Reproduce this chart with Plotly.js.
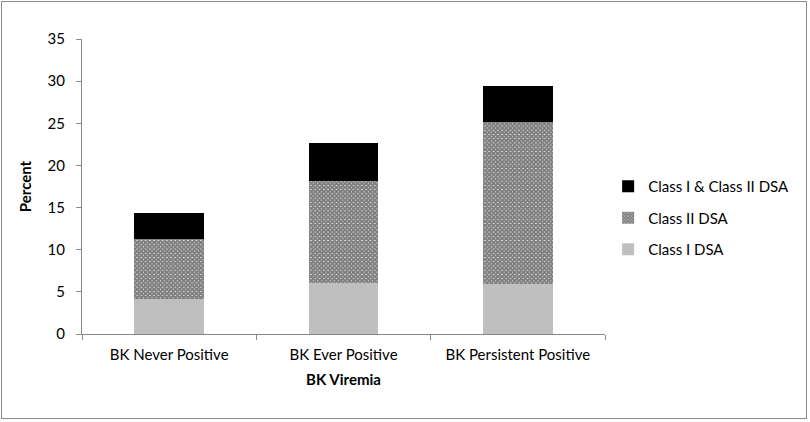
<!DOCTYPE html>
<html>
<head>
<meta charset="utf-8">
<script src="https://cdn.plot.ly/plotly-3.0.1.min.js"></script>
<style>
  body { margin: 0; background: #fff; }
  #frame {
    position: absolute; left: 1px; top: 1px;
    width: 804px; height: 416px;
    border: 1px solid #8c8c8c;
  }
  #chart { position: absolute; left: -2px; top: -2px; width: 810px; height: 422px; }
</style>
</head>
<body>
<div id="frame"><div id="chart"></div></div>
<script>
// categories and stacked series (percent)
const categories = ["BK Never Positive", "BK Ever Positive", "BK Persistent Positive"];
const classI = [4.1, 6.0, 5.9];
const classII = [7.2, 12.2, 19.2];
const classBoth = [3.05, 4.5, 4.35];
const yTicks = [0, 5, 10, 15, 20, 25, 30, 35];

const font = "Lato, 'Open Sans', sans-serif";

const data = [
  {
    x: categories,
    y: classI,
    name: "Class I DSA",
    legendgroup: "a",
    legendrank: 3,
    type: "bar",
    marker: { color: "#bfbfbf" },
  },
  {
    x: categories,
    y: classII,
    name: "Class II DSA",
    legendgroup: "b",
    legendrank: 2,
    type: "bar",
    marker: {
      color: "#ffffff",
      pattern: { shape: "x", size: 3, solidity: 0.9, fgcolor: "#000", bgcolor: "#fff", fillmode: "overlay" },
    },
  },
  {
    x: categories,
    y: classBoth,
    name: "Class I & Class II DSA",
    legendgroup: "c",
    legendrank: 1,
    type: "bar",
    marker: { color: "#000000" },
  },
];

const layout = {
  width: 810,
  height: 422,
  barmode: "stack",
  bargap: 0.6,
  margin: { l: 82, r: 205, t: 39, b: 88 },
  paper_bgcolor: "rgba(0,0,0,0)",
  plot_bgcolor: "rgba(0,0,0,0)",
  font: { family: font, size: 15, color: "#000" },
  showlegend: true,
  legend: {
    traceorder: "grouped",
    x: 1.006, xanchor: "left",
    y: 0.393, yanchor: "middle",
    font: { family: font, size: 15 },
    tracegroupgap: 9,
    itemwidth: 30,
  },
  xaxis: {
    title: { text: "<b>BK Viremia</b>", font: { family: font, size: 15 }, standoff: 12 },
    showline: true,
    linecolor: "#888",
    ticks: "outside",
    tickson: "boundaries",
    ticklen: 5,
    tickcolor: "#888",
    ticklabelstandoff: 7,
    showgrid: false,
    tickfont: { family: font, size: 15 },
  },
  yaxis: {
    title: { text: "<b>Percent</b>", font: { family: font, size: 15 }, standoff: 12 },
    range: [0, 35],
    tickvals: yTicks,
    showline: true,
    linecolor: "#888",
    ticks: "outside",
    ticklen: 5,
    tickcolor: "#888",
    ticklabelstandoff: 8,
    showgrid: false,
    zeroline: false,
    tickfont: { family: font, size: 15 },
  },
};

Plotly.newPlot("chart", data, layout, { displayModeBar: false, staticPlot: true });
</script>
</body>
</html>
